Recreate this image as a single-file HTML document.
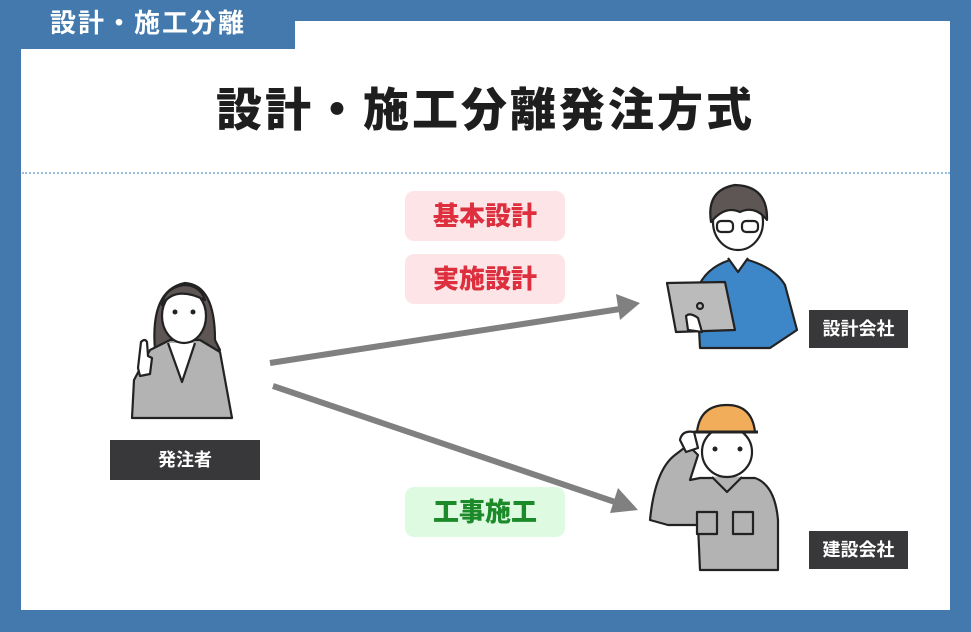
<!DOCTYPE html>
<html><head><meta charset="utf-8"><style>
body{margin:0;width:971px;height:632px;background:#4379ad;position:relative;overflow:hidden;font-family:"Liberation Sans","Noto Sans CJK JP",sans-serif}
.panel{position:absolute;left:21px;top:21px;width:929px;height:589px;background:#fff}
.tab{position:absolute;left:0;top:0;width:295px;height:49px;background:#4379ad;color:#fff;font-weight:bold;font-size:26px;line-height:46px;padding-left:50px;box-sizing:border-box;letter-spacing:2px}
.title{position:absolute;left:0;width:971px;top:74px;text-align:center;font-size:46px;font-weight:900;color:#1e1e1e;letter-spacing:3px}
.dot{position:absolute;left:22px;top:172px;width:928px;border-top:2px dotted #9bbde0}
.pill{position:absolute;left:405px;width:160px;height:50px;border-radius:9px;text-align:center;line-height:50px;font-size:26px;font-weight:900}
.r{background:#fde4e6;color:#de2f3f}.g{background:#defbe2;color:#1d8a2a}
.lab{position:absolute;background:#38383a;color:#fff;font-weight:bold;text-align:center;font-size:18px}
</style></head><body>
<div class="panel"></div>
<div class="tab">設計・施工分離</div>
<div class="title">設計・施工分離発注方式</div>
<div class="dot"></div>
<div class="pill r" style="top:191px">基本設計</div>
<div class="pill r" style="top:254px">実施設計</div>
<div class="pill g" style="top:487px">工事施工</div>
<div class="lab" style="left:110px;top:440px;width:150px;height:40px;line-height:40px">発注者</div>
<div class="lab" style="left:809px;top:310px;width:99px;height:38px;line-height:38px">設計会社</div>
<div class="lab" style="left:809px;top:531px;width:99px;height:38px;line-height:38px">建設会社</div>
<svg width="971" height="632" style="position:absolute;left:0;top:0" stroke-linejoin="round">
<g stroke="#808080" stroke-width="6" fill="#808080">
<line x1="270" y1="363" x2="620" y2="309"/>
<polygon points="640,303 616,294 620,320" stroke="none"/>
<line x1="273" y1="386" x2="615" y2="502"/>
<polygon points="638,510 618,488 610,513" stroke="none"/>
</g>
<g stroke="#222" stroke-width="2.2">
<path d="M155 350 Q150 290 185 283 Q215 285 215 340 L220 350 L155 350Z" fill="#5e5654"/>
<path d="M132 418 L134 380 L150 350 L170 340 L200 340 L220 352 L232 418Z" fill="#b3b3b3"/>
<path d="M168 343 L182 382 L195 343" fill="#fff"/>
<ellipse cx="184" cy="316" rx="22" ry="27" fill="#fff"/>
<path d="M162 305 Q175 285 205 300 Q200 285 184 285 Q164 288 162 305Z" fill="#5e5654"/>
<path d="M138 368 L141 342 Q145 338 147 342 L148 356 L152 358 L150 374 L140 376Z" fill="#fff"/>
<path d="M700 348 L697 290 Q705 268 730 260 L748 260 Q775 268 785 285 L797 330 L770 348Z" fill="#3d87c9"/>
<path d="M728 258 L738 272 L748 258" fill="#fff"/>
<ellipse cx="738" cy="222" rx="25" ry="28" fill="#fff"/>
<path d="M711 222 Q706 190 735 185 Q768 186 767 220 Q755 205 740 212 Q725 205 711 222Z" fill="#5e5654"/>
<rect x="717" y="221" width="16" height="11" rx="4" fill="#fff"/><rect x="742" y="221" width="16" height="11" rx="4" fill="#fff"/>
<path d="M667 283 L725 282 L735 330 L676 332Z" fill="#bbb"/>
<circle cx="700" cy="306" r="3" fill="#bbb"/>
<path d="M686 316 Q690 312 698 318 L702 332 L688 330Z" fill="#fff"/>
<path d="M650 520 Q655 470 675 455 L688 445 L698 455 L690 480 L700 478 L755 478 Q775 485 778 520 L778 570 L700 570 L698 525 L668 525Z" fill="#b3b3b3"/>
<path d="M712 477 L727 492 L742 477" fill="#b3b3b3"/>
<ellipse cx="727" cy="452" rx="25" ry="25" fill="#fff"/>
<path d="M697 432 Q700 405 727 405 Q752 405 755 432Z" fill="#f2ad5a"/>
<path d="M694 432 L758 432" stroke-width="3"/>
<path d="M680 440 Q682 430 694 432 L698 448 L686 452Z" fill="#fff"/>
<rect x="697" y="512" width="20" height="22" fill="#b3b3b3"/><rect x="733" y="512" width="20" height="22" fill="#b3b3b3"/>
</g>
<g fill="#222"><circle cx="175" cy="312" r="2.5"/><circle cx="193" cy="312" r="2.5"/><circle cx="715" cy="449" r="2.5"/><circle cx="740" cy="449" r="2.5"/></g>
</svg>
</body></html>
